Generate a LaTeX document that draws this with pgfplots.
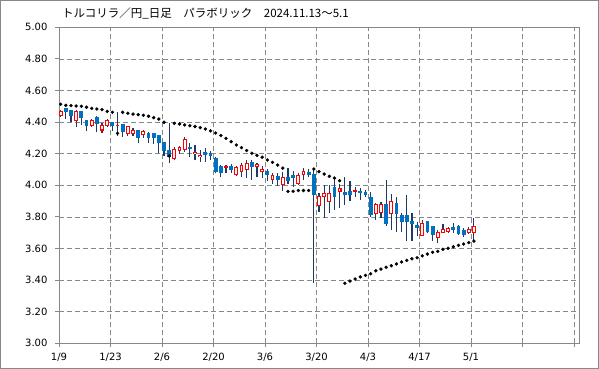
\documentclass[border=0pt]{standalone}
\usepackage{fontspec}
\setmainfont{DejaVu Sans}
\newfontfamily\jp{Noto Sans CJK JP}
\usepackage{pgfplots}
\usepackage{pgfplotstable}
\pgfplotsset{compat=1.18}
\definecolor{candleblue}{HTML}{0070C0}
\definecolor{wickc}{HTML}{1F3864}
\definecolor{gridgray}{HTML}{888888}

\pgfplotstableread{
d o h l c
0 4.443 4.478 4.435 4.470
3 4.410 4.474 4.372 4.470
6 4.380 4.418 4.372 4.411
8 4.350 4.392 4.330 4.380
9 4.379 4.420 4.372 4.411
11 4.376 4.463 4.310 4.381
13 4.329 4.373 4.314 4.371
14 4.329 4.360 4.310 4.346
16 4.323 4.350 4.300 4.342
22 4.171 4.245 4.160 4.228
23 4.221 4.249 4.200 4.240
24 4.228 4.304 4.213 4.291
26 4.202 4.255 4.160 4.210
27 4.183 4.223 4.150 4.190
32 4.112 4.128 4.076 4.118
34 4.069 4.122 4.061 4.114
35 4.086 4.139 4.055 4.124
36 4.103 4.160 4.044 4.139
38 4.118 4.143 4.055 4.133
39 4.086 4.120 4.045 4.103
41 4.034 4.080 4.010 4.065
43 4.002 4.086 3.962 4.050
46 4.012 4.075 4.002 4.065
47 4.071 4.107 4.034 4.086
50 3.871 3.950 3.833 3.928
51 3.932 4.000 3.791 3.945
52 3.900 4.000 3.823 3.945
54 3.960 4.010 3.855 3.980
57 3.960 3.990 3.928 3.966
61 3.823 3.885 3.780 3.877
62 3.827 3.897 3.790 3.877
64 3.823 3.945 3.717 3.896
70 3.683 3.780 3.680 3.759
73 3.671 3.717 3.637 3.702
74 3.702 3.755 3.696 3.721
75 3.709 3.738 3.696 3.728
79 3.700 3.738 3.692 3.721
80 3.700 3.791 3.654 3.742
}\uptable

\pgfplotstableread{
d o h l c
1 4.483 4.492 4.422 4.466
2 4.472 4.476 4.398 4.441
4 4.470 4.472 4.383 4.429
5 4.413 4.415 4.342 4.378
7 4.430 4.440 4.335 4.391
10 4.399 4.402 4.343 4.379
12 4.384 4.386 4.308 4.340
15 4.348 4.350 4.266 4.302
17 4.330 4.335 4.266 4.302
18 4.325 4.330 4.262 4.302
19 4.315 4.318 4.205 4.272
20 4.272 4.276 4.185 4.223
21 4.223 4.397 4.139 4.181
25 4.240 4.266 4.181 4.232
28 4.206 4.234 4.150 4.198
29 4.204 4.215 4.160 4.187
30 4.171 4.180 4.076 4.086
31 4.122 4.128 4.055 4.080
33 4.122 4.135 4.080 4.097
37 4.143 4.160 4.034 4.120
40 4.090 4.100 4.030 4.069
42 4.055 4.076 3.998 4.038
44 4.050 4.108 4.010 4.030
45 4.065 4.092 3.990 4.050
48 4.082 4.103 4.055 4.071
49 4.071 4.097 3.380 3.939
53 3.985 4.044 3.844 3.928
55 3.953 4.050 3.875 3.943
56 3.962 4.030 3.900 3.943
58 3.962 3.980 3.907 3.953
59 3.953 3.970 3.928 3.943
60 3.924 3.960 3.800 3.816
63 3.877 4.034 3.740 3.759
65 3.882 3.925 3.707 3.823
66 3.812 3.827 3.707 3.770
67 3.812 3.939 3.650 3.770
68 3.774 3.822 3.650 3.759
69 3.745 3.770 3.680 3.734
71 3.774 3.774 3.696 3.706
72 3.742 3.742 3.650 3.690
76 3.732 3.760 3.700 3.721
77 3.742 3.748 3.686 3.696
78 3.711 3.728 3.675 3.690
}\downtable

\pgfplotstableread{
d s
0 4.513
1 4.506
2 4.504
3 4.502
4 4.500
5 4.494
6 4.487
7 4.483
8 4.479
9 4.468
10 4.462
11 4.329
12 4.462
13 4.456
14 4.451
15 4.447
16 4.443
17 4.437
18 4.428
19 4.419
20 4.399
21 4.186
22 4.392
23 4.388
24 4.382
25 4.377
26 4.372
27 4.365
28 4.356
29 4.345
30 4.331
31 4.315
32 4.297
33 4.276
34 4.255
35 4.238
36 4.220
37 4.203
38 4.190
39 4.178
40 4.160
41 4.145
42 4.128
43 4.109
44 3.962
45 3.962
46 3.967
47 3.967
48 3.967
49 4.103
50 4.086
51 4.071
52 4.057
53 4.046
54 4.029
55 3.380
56 3.394
57 3.407
58 3.420
59 3.430
60 3.440
61 3.459
62 3.470
63 3.481
64 3.491
65 3.502
66 3.515
67 3.525
68 3.535
69 3.542
70 3.553
71 3.565
72 3.576
73 3.582
74 3.595
75 3.601
76 3.611
77 3.620
78 3.628
79 3.637
80 3.647
}\sartable

\pgfplotsset{
  candlebar/.style 2 args={only marks, mark=text, text mark={}, mark size=0pt,
    mark options={opacity=0}, forget plot,
    error bars/.cd, y dir=plus, y explicit, error mark=none,
    error bar style={draw=#1, line width=#2, solid}},
}

\begin{document}
\begin{tikzpicture}[x=1pt,y=1pt]
\useasboundingbox (0,0) rectangle (599,369);
\fill[white] (0,0) rectangle (599,369);
\draw[gridgray, line width=0.8pt] (0.5,0.5) rectangle (598.5,368.5);
\begin{axis}[
  at={(59pt,25.7pt)}, anchor=south west,
  scale only axis, width=520pt, height=316pt,
  xmin=0, xmax=100.97, ymin=3, ymax=5,
  axis line style={gridgray, line width=0.8pt},
  xtick={0,10,20,30,40,50,60,70,80,90,100},
  xticklabels={1/9,1/23,2/6,2/20,3/6,3/20,4/3,4/17,5/1,{},{}},
  ytick={3,3.2,3.4,3.6,3.8,4,4.2,4.4,4.6,4.8,5},
  yticklabel={\pgfmathprintnumber[fixed,fixed zerofill,precision=2,assume math mode=true]{\tick}},
  xtick pos=bottom, ytick pos=left,
  tick align=outside, major tick length=4pt,
  tick style={gridgray, line width=0.8pt},
  grid=major,
  major grid style={gridgray, line width=0.7pt, dash pattern=on 5pt off 3pt},
  ticklabel style={font=\fontsize{10}{11}\selectfont, text=black},
  yticklabel style={xshift=-4pt},
  xticklabel style={yshift=-2pt},
  clip=false,
]
% wicks
\addplot[candlebar={wickc}{1.1pt}]
  table[x expr=\thisrow{d}*1.003+0.33, y=l, y error plus expr=\thisrow{h}-\thisrow{l}] {\uptable};
\addplot[candlebar={wickc}{1.1pt}]
  table[x expr=\thisrow{d}*1.003+0.33, y=l, y error plus expr=\thisrow{h}-\thisrow{l}] {\downtable};
% down bodies (filled blue)
\addplot[candlebar={candleblue}{3.8pt}]
  table[x expr=\thisrow{d}*1.003+0.33, y expr=\thisrow{c}-0.0032, y error plus expr=\thisrow{o}-\thisrow{c}+0.0063] {\downtable};
% up bodies (hollow red)
\addplot[candlebar={red}{3.8pt}]
  table[x expr=\thisrow{d}*1.003+0.33, y expr=\thisrow{o}-0.0032, y error plus expr=\thisrow{c}-\thisrow{o}+0.0063] {\uptable};
\addplot[candlebar={white}{1.7pt}]
  table[x expr=\thisrow{d}*1.003+0.33, y expr=\thisrow{o}+0.0032, y error plus expr={max(\thisrow{c}-\thisrow{o}-0.0063,0)}] {\uptable};
% parabolic SAR
\addplot[only marks, mark=*, mark size=1.5pt, black]
  table[x expr=\thisrow{d}*1.003+0.33, y=s] {\sartable};
\end{axis}
\node[anchor=west, inner sep=0pt, font=\jp\fontsize{11.5}{12}\selectfont] at (62,356)
  {トルコリラ／円\textunderscore 日足　パラボリック　2024.11.13～5.1};
\end{tikzpicture}
\end{document}
